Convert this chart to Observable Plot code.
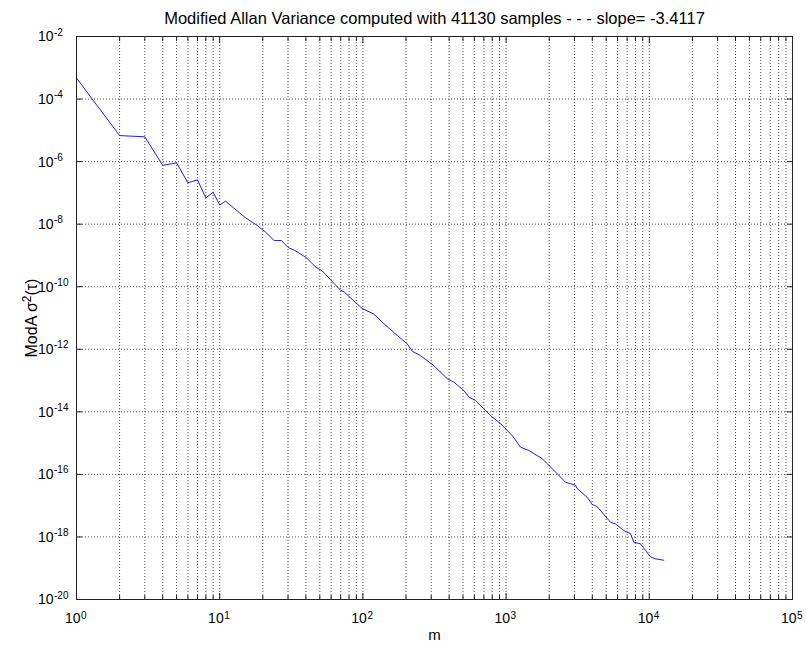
<!DOCTYPE html>
<html>
<head>
<meta charset="utf-8">
<script src="https://cdn.jsdelivr.net/npm/d3@7"></script>
<script src="https://cdn.jsdelivr.net/npm/@observablehq/plot@0.6"></script>
<style>
  html, body { margin: 0; padding: 0; background: #fff; }
  #chart svg { display: block; }
</style>
</head>
<body>
<div id="chart"></div>
<script>
// Averaging factor m and the modified Allan variance at each m
const mValues = [
  1, 2, 3, 4, 5, 6, 7, 8, 9, 10, 11,
  15, 18, 21, 24, 27, 30, 33, 40, 47, 52, 70, 74, 86, 99,
  119, 140, 174, 204, 221, 252, 313, 388, 431, 507, 550, 611, 778, 914,
  1104, 1262, 1442, 1786, 1936, 2275, 2600, 3055, 3140, 3680, 3990, 4325,
  5360, 5810, 6640, 7400, 7800, 8690, 9420, 10190, 11040, 12620
];
const modAvar = [
  4.7e-4, 6.8e-6, 6.2e-6, 7.6e-7, 9.1e-7, 2.1e-7, 2.6e-7, 6.9e-8, 1.05e-7, 4.1e-8, 5.4e-8,
  1.66e-8, 9.5e-9, 5.5e-9, 3.0e-9, 3.0e-9, 1.8e-9, 1.5e-9, 8.7e-10, 4.2e-10, 3.2e-10, 7.6e-11, 6.8e-11, 3.6e-11, 2.0e-11,
  1.35e-11, 6.6e-12, 2.75e-12, 1.5e-12, 8.7e-13, 6.3e-13, 3.0e-13, 1.15e-13, 8.9e-14, 4.8e-14, 2.95e-14, 2.3e-14, 7.6e-15, 4.2e-15,
  1.74e-15, 7.4e-16, 5.8e-16, 3.2e-16, 2.2e-16, 1.05e-16, 5.6e-17, 4.5e-17, 3.5e-17, 1.86e-17, 1.1e-17, 9.3e-18,
  2.95e-18, 2.6e-18, 1.6e-18, 1.26e-18, 6.8e-19, 6.0e-19, 3.7e-19, 2.3e-19, 2.0e-19, 1.8e-19
];

// Axis decades
const xDecades = [1, 10, 100, 1000, 10000, 100000];
const yDecades = [1e-20, 1e-18, 1e-16, 1e-14, 1e-12, 1e-10, 1e-8, 1e-6, 1e-4, 1e-2];

const titleText = "Modified Allan Variance computed with 41130 samples - - - slope= -3.4117";
const xLabel = "m";
const yLabelParts = ["ModA \u03c3", "2", "(\u03c4)"];
const yLabel = yLabelParts.join("");

const data = mValues.map((m, i) => ({m, v: modAvar[i]}));

// Minor log ticks 2..9 inside each x decade
const xMinor = xDecades.slice(0, -1).flatMap(d => d3.range(2, 10).map(k => k * d));
const xAll = [...xDecades, ...xMinor].sort((a, b) => a - b);
const xInner = xAll.filter(d => d > 1 && d < 1e5);
const yInner = yDecades.filter(d => d > 1e-20 && d < 1e-2);

const expOf = d => String(Math.round(Math.log10(d)));
const gridStyle = {stroke: "#333", strokeOpacity: 0.85, strokeDasharray: "1,2"};
const blank = () => "";
const font = "'Liberation Sans', Arial, Helvetica, sans-serif";

const chart = Plot.plot({
  width: 806,
  height: 651,
  marginLeft: 76,
  marginRight: 14,
  marginTop: 36,
  marginBottom: 52,
  style: {fontFamily: font, background: "#fff", color: "#000", overflow: "visible"},
  x: {type: "log", domain: [1, 1e5]},
  y: {type: "log", domain: [1e-20, 1e-2]},
  marks: [
    // dotted grid
    Plot.ruleX(xInner, gridStyle),
    Plot.ruleY(yInner, gridStyle),
    // the variance curve
    Plot.line(data, {x: "m", y: "v", stroke: "#0000ff", strokeWidth: 0.9}),
    Plot.frame({stroke: "#222"}),
    // inward tick marks on all four sides
    Plot.axisX(xDecades, {anchor: "bottom", tickSize: -6, tickFormat: blank, label: null, stroke: "#222"}),
    Plot.axisX(xMinor, {anchor: "bottom", tickSize: -4, tickFormat: blank, label: null, stroke: "#222"}),
    Plot.axisX(xDecades, {anchor: "top", tickSize: -6, tickFormat: blank, label: null, stroke: "#222"}),
    Plot.axisX(xMinor, {anchor: "top", tickSize: -4, tickFormat: blank, label: null, stroke: "#222"}),
    Plot.axisY(yDecades, {anchor: "left", tickSize: -6, tickFormat: blank, label: null, stroke: "#222"}),
    Plot.axisY(yDecades, {anchor: "right", tickSize: -6, tickFormat: blank, label: null, stroke: "#222"}),
    // tick labels: base "10" plus raised exponent
    Plot.axisX(xDecades, {anchor: "bottom", tickSize: 0, tickPadding: 14, tickFormat: () => "10",
      textAnchor: "end", dx: 4, fontSize: 14, label: null}),
    Plot.axisX(xDecades, {anchor: "bottom", tickSize: 0, tickPadding: 12.4, tickFormat: expOf,
      textAnchor: "start", dx: 4.5, fontSize: 10, label: null}),
    Plot.axisY(yDecades, {anchor: "left", tickSize: 0, tickPadding: 23, tickFormat: () => "10",
      textAnchor: "end", dy: 0.5, fontSize: 14, label: null}),
    Plot.axisY(yDecades, {anchor: "left", tickSize: 0, tickPadding: 22.5, tickFormat: expOf,
      textAnchor: "start", dy: -4.2, fontSize: 10, label: null}),
    // title and axis titles
    Plot.text([titleText], {frameAnchor: "top", dy: -13, lineAnchor: "bottom", fontSize: 16.5}),
    Plot.text([xLabel], {frameAnchor: "bottom", dy: 40, lineAnchor: "bottom", fontSize: 15}),
    Plot.text([yLabel], {frameAnchor: "left", dx: -45, rotate: -90, textAnchor: "middle", fontSize: 16})
  ]
});

// Set the "2" of the y-axis title as a superscript
d3.select(chart).selectAll("text")
  .filter(function() { return this.textContent === yLabel; })
  .each(function() {
    const t = d3.select(this).text(null);
    t.append("tspan").text(yLabelParts[0]);
    t.append("tspan").attr("dy", "-0.45em").attr("font-size", "0.75em").text(yLabelParts[1]);
    t.append("tspan").attr("dy", "0.34em").text(yLabelParts[2]);
  });

document.getElementById("chart").append(chart);
</script>
</body>
</html>
